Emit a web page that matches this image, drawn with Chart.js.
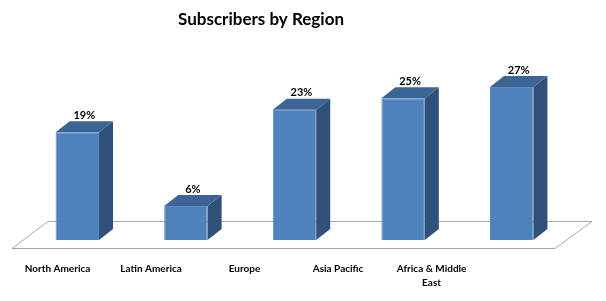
<!DOCTYPE html>
<html>
<head>
<meta charset="utf-8">
<script src="https://cdn.jsdelivr.net/npm/chart.js@4/dist/chart.umd.min.js"></script>
<style>
  html, body { margin: 0; padding: 0; background: #fff; }
  #wrap { width: 606px; height: 301px; }
</style>
</head>
<body>
<div id="wrap"><canvas id="grafica"></canvas></div>
<script>
// Datos del gráfico
const regiones = ["North America", "Latin America", "Europe", "Asia Pacific", ["Africa & Middle", "East"]];
const suscriptores = [19, 6, 23, 25, 27];
const tituloTexto = "Subscribers by Region";

// 3D look
const PROF_X = 14, PROF_Y = 11;
const FRENTE = "#4f81bd", LADO = "#2f5079", TAPA = "#3c6495";
const FUENTE = "Lato, 'Open Sans', sans-serif";

const plugin3d = {
    id: "falso3d",
    beforeDatasetsDraw(chart) {
        const { ctx, chartArea: a } = chart;
        const base = chart.scales.y.getPixelForValue(0);
        // piso
        ctx.save();
        ctx.strokeStyle = "#a6a6a6";
        ctx.lineWidth = 1;
        ctx.beginPath();
        ctx.moveTo(a.left - 11, base + 8.5);
        ctx.lineTo(a.right - 11, base + 8.5);
        ctx.lineTo(a.right + 26, base - 18.5);
        ctx.lineTo(a.left + 25, base - 18.5);
        ctx.closePath();
        ctx.stroke();
        ctx.restore();
    },
    afterDatasetsDraw(chart) {
        const { ctx } = chart;
        const meta = chart.getDatasetMeta(0);
        ctx.save();
        meta.data.forEach((bar, i) => {
            const l = bar.x - bar.width / 2, r = bar.x + bar.width / 2;
            const top = bar.y, base = bar.base;
            // lado
            ctx.fillStyle = LADO;
            ctx.beginPath();
            ctx.moveTo(r, top);
            ctx.lineTo(r + PROF_X, top - PROF_Y);
            ctx.lineTo(r + PROF_X, base - PROF_Y);
            ctx.lineTo(r, base);
            ctx.closePath();
            ctx.fill();
            // tapa
            ctx.fillStyle = TAPA;
            ctx.beginPath();
            ctx.moveTo(l, top);
            ctx.lineTo(l + PROF_X, top - PROF_Y);
            ctx.lineTo(r + PROF_X, top - PROF_Y);
            ctx.lineTo(r, top);
            ctx.closePath();
            ctx.fill();
            // etiqueta
            ctx.fillStyle = "#000";
            ctx.font = "bold 11px " + FUENTE;
            ctx.textAlign = "center";
            ctx.textBaseline = "middle";
            ctx.fillText(suscriptores[i] + "%", bar.x + PROF_X / 2, top - PROF_Y - 6);
        });
        // etiquetas de categoría (en perspectiva)
        const base = chart.scales.y.getPixelForValue(0);
        ctx.font = "bold 10px " + FUENTE;
        meta.data.forEach((bar, i) => {
            const x = -9 + bar.x * 0.861;
            const lineas = Array.isArray(regiones[i]) ? regiones[i] : [regiones[i]];
            lineas.forEach((t, k) => ctx.fillText(t, x, base + 29 + k * 14));
        });
        // título
        ctx.font = "bold 17px " + FUENTE;
        ctx.fillText(tituloTexto, 261, 20);
        ctx.restore();
    }
};

new Chart(document.getElementById("grafica"), {
    type: "bar",
    data: {
        labels: regiones,
        datasets: [{
            data: suscriptores,
            backgroundColor: FRENTE,
            borderColor: "#5d8cc6",
            borderWidth: 1,
            barPercentage: 0.4,
            categoryPercentage: 1
        }]
    },
    options: {
        responsive: true,
        maintainAspectRatio: false,
        animation: false,
        layout: { padding: { left: 23, right: 40, top: 70, bottom: 61 } },
        plugins: { legend: { display: false }, tooltip: { enabled: false }, title: { display: false } },
        scales: {
            x: { display: false },
            y: { display: false, min: 0, max: 30 }
        }
    },
    plugins: [plugin3d]
});
</script>
</body>
</html>
